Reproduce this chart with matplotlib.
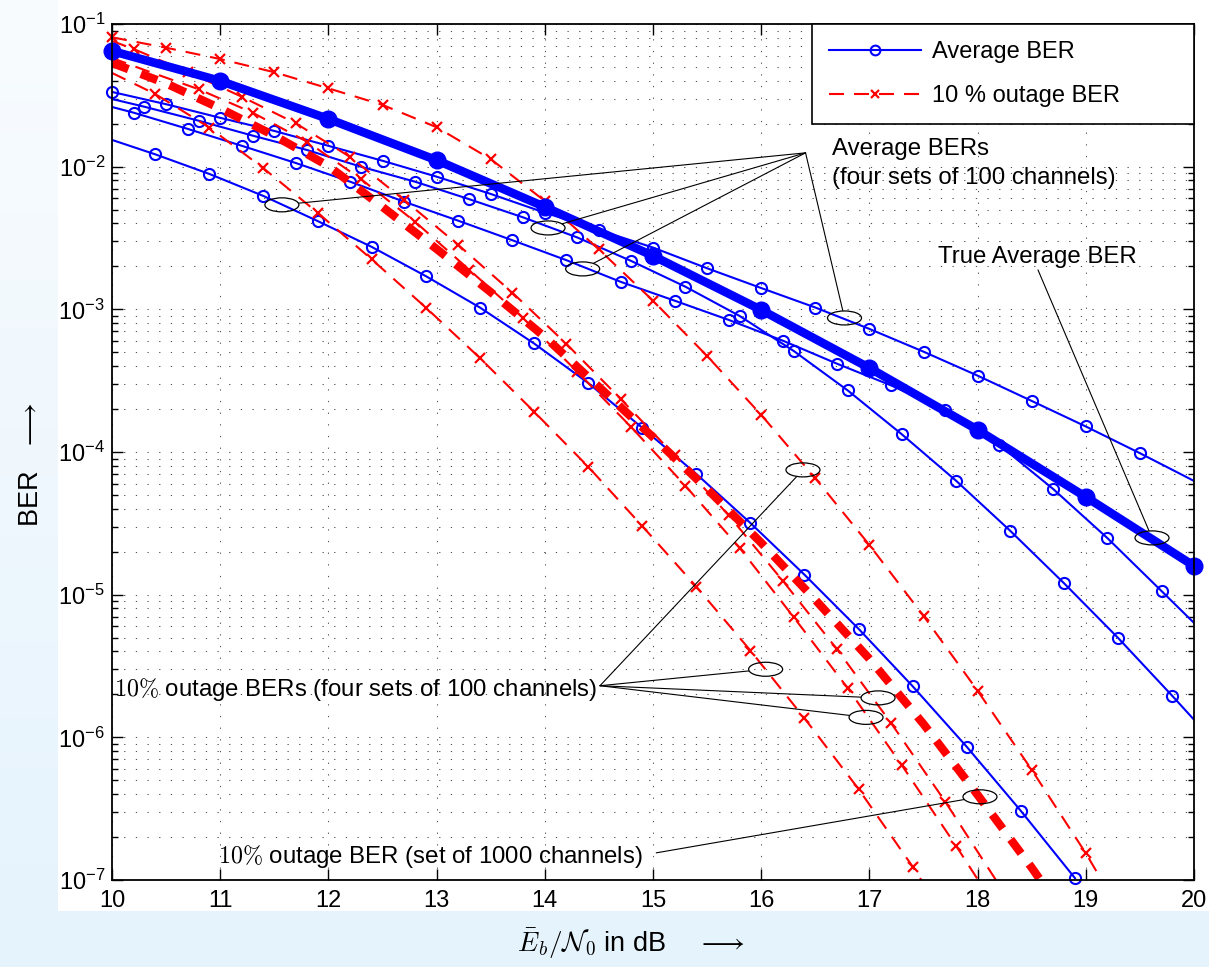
import numpy as np
import matplotlib
matplotlib.use("Agg")
import matplotlib.pyplot as plt
from matplotlib.patches import Ellipse, Rectangle
from matplotlib.lines import Line2D
from matplotlib.transforms import ScaledTranslation
from matplotlib.ticker import FixedLocator, NullFormatter, LogFormatterSciNotation

plt.rcParams['font.family'] = ['Liberation Sans', 'DejaVu Sans']
plt.rcParams['mathtext.fontset'] = 'cm'

# ---------------------------------------------------------------- data
# True average BER (thick blue)
snr_true = [10, 11, 12, 13, 14, 15, 16, 17, 18, 19, 20]
ber_true = [6.47e-2, 3.99e-2, 2.16e-2, 1.11e-2, 5.22e-3, 2.37e-3, 9.9e-4,
            3.88e-4, 1.43e-4, 4.84e-5, 1.59e-5]

# Average BER of four sets of 100 channels
snr_avg_a = [10.0, 10.5, 11.0, 11.5, 12.0, 12.5, 13.0, 13.5, 14.0, 14.5, 15.0,
             15.5, 16.0, 16.5, 17.0, 17.5, 18.0, 18.5, 19.0, 19.5, 20.0]
ber_avg_a = [3.34e-2, 2.74e-2, 2.20e-2, 1.78e-2, 1.40e-2, 1.10e-2, 8.51e-3,
             6.44e-3, 4.76e-3, 3.60e-3, 2.71e-3, 1.94e-3, 1.41e-3, 1.03e-3,
             7.29e-4, 5.05e-4, 3.43e-4, 2.28e-4, 1.51e-4, 9.81e-5, 6.27e-5]

snr_avg_b = [10.0, 10.2, 10.7, 11.2, 11.7, 12.2, 12.7, 13.2, 13.7, 14.2, 14.7,
             15.2, 15.7, 16.2, 16.7, 17.2, 17.7, 18.2, 18.7, 19.2, 19.7, 20.0]
ber_avg_b = [2.62e-2, 2.39e-2, 1.84e-2, 1.40e-2, 1.06e-2, 7.85e-3, 5.68e-3,
             4.18e-3, 3.05e-3, 2.21e-3, 1.56e-3, 1.15e-3, 8.43e-4, 6.03e-4,
             4.16e-4, 2.93e-4, 1.97e-4, 1.12e-4, 5.49e-5, 2.49e-5, 1.06e-5,
             6.34e-6]

snr_avg_c = [10.0, 10.3, 10.8, 11.3, 11.8, 12.3, 12.8, 13.3, 13.8, 14.3, 14.8,
             15.3, 15.8, 16.3, 16.8, 17.3, 17.8, 18.3, 18.8, 19.3, 19.8, 20.0]
ber_avg_c = [2.98e-2, 2.63e-2, 2.10e-2, 1.65e-2, 1.31e-2, 1.00e-2, 7.85e-3,
             5.92e-3, 4.41e-3, 3.19e-3, 2.18e-3, 1.44e-3, 8.99e-4, 5.11e-4,
             2.70e-4, 1.33e-4, 6.30e-5, 2.81e-5, 1.20e-5, 4.96e-6, 1.95e-6,
             1.33e-6]

snr_avg_d = [10.0, 10.4, 10.9, 11.4, 11.9, 12.4, 12.9, 13.4, 13.9, 14.4, 14.9,
             15.4, 15.9, 16.4, 16.9, 17.4, 17.9, 18.4, 18.9]
ber_avg_d = [1.54e-2, 1.22e-2, 8.89e-3, 6.23e-3, 4.16e-3, 2.74e-3, 1.71e-3,
             1.03e-3, 5.77e-4, 3.05e-4, 1.48e-4, 7.02e-5, 3.18e-5, 1.38e-5,
             5.76e-6, 2.28e-6, 8.58e-7, 3.05e-7, 1.03e-7]

# 10 % outage BER of the same four sets
snr_out_a = [10.0, 10.5, 11.0, 11.5, 12.0, 12.5, 13.0, 13.5, 14.0, 14.5, 15.0,
             15.5, 16.0, 16.5, 17.0, 17.5, 18.0, 18.5, 19.0, 19.5]
ber_out_a = [8.07e-2, 6.82e-2, 5.68e-2, 4.59e-2, 3.54e-2, 2.71e-2, 1.89e-2,
             1.13e-2, 5.75e-3, 2.63e-3, 1.15e-3, 4.71e-4, 1.82e-4, 6.55e-5,
             2.23e-5, 7.10e-6, 2.12e-6, 5.92e-7, 1.54e-7, 3.5e-8]

snr_out_b = [10.0, 10.2, 10.7, 11.2, 11.7, 12.2, 12.7, 13.2, 13.7, 14.2, 14.7,
             15.2, 15.7, 16.2, 16.7, 17.2, 17.7, 18.2]
ber_out_b = [7.6e-2, 6.68e-2, 4.61e-2, 3.09e-2, 2.01e-2, 1.17e-2, 5.84e-3,
             2.83e-3, 1.31e-3, 5.72e-4, 2.36e-4, 9.47e-5, 3.59e-5, 1.25e-5,
             4.15e-6, 1.26e-6, 3.55e-7, 9.2e-8]

snr_out_c = [10.0, 10.3, 10.8, 11.3, 11.8, 12.3, 12.8, 13.3, 13.8, 14.3, 14.8,
             15.3, 15.8, 16.3, 16.8, 17.3, 17.8, 18.3]
ber_out_c = [5.78e-2, 4.76e-2, 3.49e-2, 2.39e-2, 1.50e-2, 8.20e-3, 4.12e-3,
             1.90e-3, 8.70e-4, 3.65e-4, 1.49e-4, 5.79e-5, 2.13e-5, 6.96e-6,
             2.21e-6, 6.37e-7, 1.74e-7, 4.5e-8]

snr_out_d = [10.0, 10.4, 10.9, 11.4, 11.9, 12.4, 12.9, 13.4, 13.9, 14.4, 14.9,
             15.4, 15.9, 16.4, 16.9, 17.4, 17.9]
ber_out_d = [4.54e-2, 3.23e-2, 1.88e-2, 9.74e-3, 4.76e-3, 2.24e-3, 1.03e-3,
             4.56e-4, 1.92e-4, 7.90e-5, 3.03e-5, 1.14e-5, 4.06e-6, 1.36e-6,
             4.34e-7, 1.24e-7, 3.2e-8]

# 10 % outage BER of one set of 1000 channels (thick red)
snr_out_1000 = [10.0, 10.5, 11.0, 11.5, 12.0, 12.5, 13.0, 13.5, 14.0, 14.5,
                15.0, 15.5, 16.0, 16.5, 17.0, 17.5, 18.0, 18.5, 19.0]
ber_out_1000 = [5.33e-2, 3.83e-2, 2.56e-2, 1.65e-2, 1.01e-2, 5.22e-3, 2.65e-3,
                1.32e-3, 6.41e-4, 2.86e-4, 1.27e-4, 5.51e-5, 2.31e-5, 9.20e-6,
                3.55e-6, 1.24e-6, 3.95e-7, 1.22e-7, 3.5e-8]

# indices of the samples that carry a marker
marks_avg_a = list(range(0, 20))
marks_avg_b = list(range(1, 21))
marks_avg_c = list(range(1, 21))
marks_avg_d = list(range(1, 19))
marks_out_a = list(range(0, 19))
marks_out_b = list(range(1, 17))
marks_out_c = list(range(2, 17))
marks_out_d = list(range(1, 16))

# axis ticks
x_ticks = [10, 11, 12, 13, 14, 15, 16, 17, 18, 19, 20]
y_decades = [1e-7, 1e-6, 1e-5, 1e-4, 1e-3, 1e-2, 1e-1]

# ---------------------------------------------------------------- figure
W, H = 1209, 967
fig = plt.figure(figsize=(W / 100, H / 100), dpi=100)

bg = fig.add_axes([0, 0, 1, 1], zorder=-10)
bg.set_axis_off()
shade = np.linspace(0, 1, 256)[:, None, None]
top_col = np.array([0.975, 0.988, 0.997])
bot_col = np.array([0.898, 0.953, 0.992])
bg.imshow(top_col + (bot_col - top_col) * shade, aspect='auto',
          extent=[0, 1, 0, 1])
bg.add_patch(Rectangle((58 / W, 1 - 911 / H), 1 - 58 / W, 911 / H,
                       facecolor='white', edgecolor='none'))
bg.set_xlim(0, 1)
bg.set_ylim(0, 1)

ax = fig.add_axes([112 / W, 1 - 880 / H, (1194 - 112) / W, (880 - 24) / H])
ax.set_yscale('log')
ax.set_xlim(10, 20)
ax.set_ylim(1e-7, 1e-1)
ax.set_xticks(x_ticks)
ax.yaxis.set_major_locator(FixedLocator(y_decades))
ax.yaxis.set_major_formatter(LogFormatterSciNotation())
minor_y = [m * d for d in y_decades[:-1] for m in range(2, 10)]
ax.yaxis.set_minor_locator(FixedLocator(minor_y))
ax.yaxis.set_minor_formatter(NullFormatter())

grid_kw = dict(color='#1a1a1a', linestyle=(0, (1.2, 10)), linewidth=0.75, alpha=0.75)
ax.grid(True, which='major', axis='x', **grid_kw)
ax.grid(True, which='both', axis='y', **grid_kw)
ax.set_axisbelow(True)

ax.tick_params(which='both', direction='in', top=True, right=True,
               labelsize=17, width=1.0)
ax.tick_params(which='major', length=8)
ax.tick_params(axis='x', which='major', pad=7)
ax.tick_params(axis='y', which='major', pad=5)
ax.tick_params(which='minor', length=4.5)
for sp in ax.spines.values():
    sp.set_linewidth(1.3)

BLUE = (0, 0, 1)
RED = (1, 0, 0)
thin_dash = (0, (7.2, 4.8))
thick_dash = (0, (2.1, 1.6))


def curve(x, y, marks, line_kw, mark_kw):
    ax.plot(x, y, **line_kw)
    if marks:
        ax.plot([x[i] for i in marks], [y[i] for i in marks], linestyle='none',
                clip_on=False, **mark_kw)


avg_line = dict(color=BLUE, lw=1.5)
avg_mark = dict(marker='o', ms=8, mfc='none', mec=BLUE, mew=1.5)
out_line = dict(color=RED, lw=1.5, linestyle=thin_dash)
out_mark = dict(marker='x', ms=7, mec=RED, mew=1.6)

curve(snr_avg_a, ber_avg_a, marks_avg_a, avg_line, avg_mark)
curve(snr_avg_b, ber_avg_b, marks_avg_b, avg_line, avg_mark)
curve(snr_avg_c, ber_avg_c, marks_avg_c, avg_line, avg_mark)
curve(snr_avg_d, ber_avg_d, marks_avg_d, avg_line, avg_mark)

curve(snr_out_a, ber_out_a, marks_out_a, out_line, out_mark)
curve(snr_out_b, ber_out_b, marks_out_b, out_line, out_mark)
curve(snr_out_c, ber_out_c, marks_out_c, out_line, out_mark)
curve(snr_out_d, ber_out_d, marks_out_d, out_line, out_mark)

ax.plot(snr_out_1000, ber_out_1000, color=RED, lw=6.0, linestyle=thick_dash,
        dash_capstyle='butt')

curve(snr_true, ber_true, list(range(len(snr_true))),
      dict(color=BLUE, lw=6.2, solid_capstyle='round'),
      dict(marker='o', ms=12, mfc=BLUE, mec=BLUE, mew=1))

# ---------------------------------------------------------------- legend
h_avg = Line2D([], [], color=BLUE, lw=1.5, marker='o', ms=7, mfc='none',
               mec=BLUE, mew=1.5)
h_out = Line2D([], [], color=RED, lw=1.5, linestyle=thin_dash, marker='x',
               ms=6, mec=RED, mew=1.6)
x0 = (812 - 112) / (1194 - 112)
leg = ax.legend([h_avg, h_out], ["Average BER", "10 % outage BER"],
                loc='upper right', bbox_to_anchor=(x0, 0, 1 - x0, 1),
                mode='expand', borderaxespad=0, fancybox=False, frameon=True,
                edgecolor='black', framealpha=1, handlelength=3.9,
                handletextpad=0.45, borderpad=0.72, labelspacing=0.95,
                fontsize=17, numpoints=1)
leg.get_frame().set_linewidth(1.2)

# ---------------------------------------------------------------- annotations
ELL_W, ELL_H = 0.34, 0.14


def ellipse_at(x, y):
    tr = fig.dpi_scale_trans + ScaledTranslation(x, y, ax.transData)
    e = Ellipse((0, 0), ELL_W, ELL_H, transform=tr, fill=False,
                edgecolor='black', lw=0.9, zorder=6)
    ax.add_patch(e)
    return e


def pointer(src, target):
    e = ellipse_at(*target)
    ax.annotate('', xy=target, xytext=src,
                arrowprops=dict(arrowstyle='-', color='black', lw=0.8,
                                shrinkA=0, shrinkB=0, patchB=e), zorder=6)


avg_src = (16.41, 1.25e-2)
for tgt in [(11.57, 5.4e-3), (14.03, 3.72e-3), (14.35, 1.92e-3), (16.77, 8.7e-4)]:
    pointer(avg_src, tgt)
ax.text(16.654, 1.208e-2, "Average BERs", fontsize=17.3, va='baseline', zorder=7)
ax.text(16.654, 7.56e-3, "(four sets of 100 channels)", fontsize=17.3,
        va='baseline', zorder=7)

pointer((18.558, 1.89e-3), (19.612, 2.5e-5))
ax.text(17.634, 2.12e-3, "True Average BER", fontsize=17.3, va='baseline', zorder=7)

out_src = (14.51, 2.3e-6)
for tgt in [(16.386, 7.49e-5), (16.041, 3.0e-6), (17.08, 1.89e-6), (16.969, 1.38e-6)]:
    pointer(out_src, tgt)
ax.text(10.018, 1.95e-6, r"$10\%$ outage BERs (four sets of 100 channels)",
        fontsize=17.3, va='baseline', zorder=7)

pointer((15.03, 1.55e-7), (18.022, 3.83e-7))
ax.text(10.98, 1.31e-7, r"$10\%$ outage BER (set of 1000 channels)",
        fontsize=17.3, va='baseline', zorder=7)

# ---------------------------------------------------------------- axis labels
fig.text(631 / W, 1 - 944 / H,
         r"$\bar{E}_b/\mathcal{N}_0$ in dB $\quad\longrightarrow$",
         ha='center', va='center', fontsize=19.5)
fig.text(31 / W, 1 - 465 / H, r"BER $\;\;\longrightarrow$", rotation=90,
         ha='center', va='center', fontsize=19.5)

fig.savefig("out.png", dpi=100, facecolor=fig.get_facecolor())
